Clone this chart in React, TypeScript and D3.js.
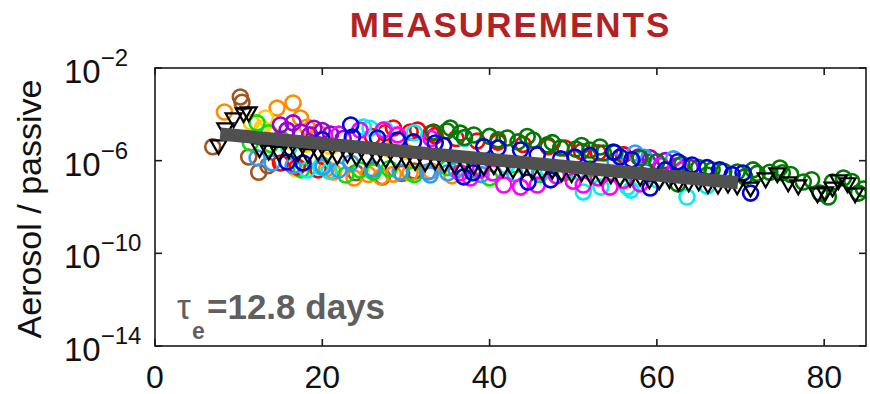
import React from "react";
import * as d3 from "d3";

type Pt = [number, number]; // [day, aerosol/passive ratio]

// Axis settings
const xDomain: [number, number] = [0, 85];
const yDomain: [number, number] = [1e-14, 1e-2];
const xTicks = [0, 20, 40, 60, 80];
const yTickExponents = [-2, -6, -10, -14];

// Fitted e-folding time and fit span
const tauDays = 12.8;
const fitStartDay = 7.8;
const fitEndDay = 69.7;
const fitStartValue = 1.41e-5;

// Individual flights / profiles (open circles)
const brownPts: Pt[] = [
  [6.9, 3.98e-6], [10.2, 5.62e-4], [10.4, 3.3e-4], [11.2, 1.45e-6], [12.4, 3.16e-7],
  [13.5, 6.0e-7], [24.0, 3.0e-7], [26.0, 4.0e-7], [27.2, 2.0e-7], [29.5, 2.82e-7],
  [31.0, 3.55e-7],
];
const orangePts: Pt[] = [
  [8.3, 1.26e-4], [14.6, 1.86e-4], [16.5, 3.09e-4], [17.4, 6.92e-5], [18.2, 2.82e-5],
  [19.5, 1.6e-5], [20.5, 4.5e-7], [21.3, 3.24e-7], [23.8, 1.78e-7], [25.5, 2.51e-7],
  [27.0, 2.0e-7], [28.5, 2.6e-7], [30.5, 2.95e-7], [33.0, 3.55e-7], [35.5, 2.2e-7],
];
const yellowPts: Pt[] = [
  [11.5, 4.47e-5], [13.2, 6.9e-5], [12.8, 2.51e-5], [14.0, 1.26e-5], [15.5, 7.0e-6],
  [16.8, 4.5e-7], [18.0, 5.0e-6], [21.0, 4.0e-6], [28.0, 3.0e-6], [30.0, 2.5e-6],
];
const limePts: Pt[] = [
  [11.4, 5.75e-6], [12.2, 4.27e-5], [13.6, 1.6e-5], [13.8, 5.0e-6], [15.0, 9.0e-6],
  [17.5, 4.0e-7], [20.0, 6.5e-7], [22.8, 2.4e-7], [24.5, 3.98e-7], [26.1, 3.24e-7],
  [28.0, 4.5e-7], [31.0, 2.5e-7], [35.0, 5.0e-7], [38.0, 4.0e-7], [40.0, 1.8e-7],
  [43.0, 6.5e-7], [46.0, 2.51e-7], [49.0, 3.0e-7], [52.0, 4.5e-7],
];
const purplePts: Pt[] = [
  [15.0, 3.47e-5], [15.8, 2.09e-5], [16.5, 4.27e-5], [17.4, 1.74e-5], [18.5, 1.3e-5],
  [19.0, 2.51e-5], [20.0, 2.0e-5], [21.0, 1.41e-5], [22.5, 9.0e-6], [56.0, 1.8e-6],
  [57.8, 1.45e-6], [58.9, 8.7e-7], [59.2, 1.32e-6], [61.0, 1.0e-6], [62.5, 6.0e-7],
  [64.0, 5.0e-7],
];
const redPts: Pt[] = [
  [15.0, 7.94e-7], [17.0, 5.37e-7], [19.5, 4.0e-7], [26.0, 1.1e-5], [27.5, 1.6e-5],
  [28.5, 2.57e-5], [30.5, 1.74e-5], [31.4, 2.09e-5], [33.0, 1.5e-5], [33.5, 1.2e-5],
  [36.0, 9.0e-6], [38.5, 7.0e-6], [41.0, 6.3e-6], [44.0, 5.0e-6], [47.0, 3.98e-6],
  [49.0, 3.5e-6], [51.0, 2.5e-6], [53.0, 2.2e-6], [56.0, 1.8e-6],
];
const cyanPts: Pt[] = [
  [16.0, 3.5e-6], [18.2, 3.98e-7], [19.8, 5.37e-7], [20.8, 3.55e-7], [24.9, 2.82e-5],
  [25.7, 2.51e-5], [27.5, 2.2e-5], [31.0, 1.6e-5], [37.0, 9.0e-6], [42.0, 6.0e-7],
  [47.0, 4.0e-7], [50.5, 3.5e-7], [51.2, 4.47e-8], [53.3, 7.24e-8], [56.5, 7.24e-8],
  [56.9, 5.37e-8], [60.0, 1.5e-7], [63.6, 2.69e-8], [66.0, 8.0e-8],
];
const skyPts: Pt[] = [
  [12.2, 1.32e-6], [14.0, 8.0e-7], [16.5, 6.0e-7], [20.1, 5.37e-7], [22.0, 4.0e-7],
  [23.4, 7.94e-7], [26.0, 4.5e-7], [29.3, 3.24e-7], [32.6, 3.24e-7], [32.9, 2.4e-7],
  [35.0, 3.0e-7], [36.0, 3.98e-7], [39.0, 2.5e-7], [43.0, 2.8e-7], [46.0, 3.3e-7],
  [55.0, 9.0e-7], [57.4, 2.14e-6], [58.5, 1.4e-6], [62.0, 1.2e-6],
];
const magentaPts: Pt[] = [
  [22.0, 1.4e-5], [24.5, 2.09e-5], [27.3, 2.09e-5], [29.0, 1.3e-5], [33.0, 9.0e-6],
  [36.5, 3.0e-7], [37.7, 1.78e-7], [38.9, 3.98e-7], [40.4, 2.95e-7], [41.7, 8.9e-8],
  [43.7, 7.24e-8], [45.7, 8.9e-8], [48.0, 2.2e-7], [50.0, 1.3e-7], [51.2, 8.9e-8],
  [53.0, 1.8e-7], [54.4, 7.24e-8], [56.0, 1.4e-7], [58.0, 1.0e-7], [60.5, 6.0e-7],
  [63.0, 4.0e-7],
];
const darkGreenPts: Pt[] = [
  [33.3, 1.74e-5], [34.9, 1.91e-5], [35.3, 2.57e-5], [36.5, 1.55e-5], [37.0, 1.0e-5],
  [38.1, 1.29e-5], [40.0, 1.12e-5], [41.0, 8.0e-6], [42.1, 9.55e-6], [43.4, 6.46e-6],
  [44.5, 1.1e-5], [45.2, 7.76e-6], [46.9, 4.79e-6], [47.5, 6.0e-6], [48.5, 3.55e-6],
  [50.3, 3.16e-6], [51.0, 4.5e-6], [52.0, 2.88e-6], [53.2, 3.89e-6], [53.6, 2.14e-6],
  [55.0, 2.2e-6], [58.0, 1.3e-6], [60.0, 9.0e-7], [62.5, 1.0e-7], [63.0, 7.0e-7],
  [65.0, 5.0e-7], [66.0, 2.4e-7], [66.6, 3.98e-7], [68.0, 3.5e-7], [69.6, 3.24e-7],
  [70.5, 2.0e-7], [71.5, 4.0e-7], [72.0, 2.82e-7], [73.5, 3.16e-7], [74.7, 4.79e-7],
  [75.0, 3.0e-7], [76.0, 2.51e-7], [77.5, 1.2e-7], [78.5, 1.5e-7], [79.5, 3.98e-8],
  [80.5, 2.69e-8], [81.0, 1.2e-7], [82.3, 1.78e-7], [83.3, 1.26e-7], [84.1, 3.98e-8],
  [84.7, 6.0e-8],
];
const bluePts: Pt[] = [
  [15.8, 8.7e-7], [17.7, 7.94e-7], [20.0, 8.0e-6], [23.4, 3.47e-5], [23.6, 1.05e-5],
  [26.6, 9.55e-6], [29.0, 7.76e-6], [30.9, 6.46e-6], [33.5, 5.75e-6], [34.5, 4.5e-6],
  [36.9, 2.0e-7], [38.0, 3.0e-7], [39.3, 3.98e-6], [41.0, 3.5e-6], [43.7, 2.88e-6],
  [44.6, 1.2e-7], [45.7, 1.78e-6], [47.3, 1.48e-7], [48.5, 1.2e-6], [50.2, 1.45e-6],
  [52.0, 1.7e-6], [54.8, 2.34e-6], [55.6, 1.45e-6], [57.0, 1.1e-6], [59.2, 6.6e-8],
  [61.0, 4.0e-7], [62.5, 9.0e-7], [64.2, 6.46e-7], [66.0, 5.0e-7], [67.5, 4.0e-7],
  [69.0, 2.5e-7], [70.3, 2.95e-7], [71.2, 3.98e-8],
];

// Daily median (down-pointing triangles)
const medianPts: Pt[] = [
  [7.6, 4.79e-6], [8.4, 2.57e-5], [9.4, 6.92e-5], [10.6, 1.15e-4], [11.2, 1.26e-4],
  [12.5, 3.55e-6], [13.6, 2.82e-6], [14.8, 2.51e-6], [16.0, 3.16e-6], [17.1, 2.4e-6],
  [18.3, 2.0e-6], [19.5, 2.51e-6], [20.6, 1.91e-6], [21.8, 1.78e-6], [23.0, 2.09e-6],
  [24.1, 1.51e-6], [25.3, 1.41e-6], [26.5, 1.66e-6], [27.6, 1.26e-6], [28.8, 1.12e-6],
  [30.0, 1.32e-6], [31.1, 1.0e-6], [32.3, 8.9e-7], [33.5, 1.05e-6], [34.6, 7.9e-7],
  [35.8, 7.1e-7], [37.0, 8.3e-7], [38.1, 6.3e-7], [39.3, 6.0e-7], [40.5, 6.6e-7],
  [41.6, 5.0e-7], [42.8, 4.5e-7], [44.0, 5.2e-7], [45.1, 4.0e-7], [46.3, 3.8e-7],
  [47.5, 4.2e-7], [48.6, 3.2e-7], [49.8, 3.0e-7], [51.0, 3.3e-7], [52.1, 2.5e-7],
  [53.3, 2.4e-7], [54.5, 2.6e-7], [55.6, 2.0e-7], [56.8, 1.9e-7], [58.0, 2.1e-7],
  [59.1, 1.6e-7], [60.3, 1.5e-7], [61.5, 1.66e-7], [62.6, 1.26e-7], [63.8, 1.2e-7],
  [65.0, 1.32e-7], [66.1, 1.0e-7], [67.3, 9.5e-8], [68.5, 1.05e-7], [69.6, 8.9e-8],
  [71.2, 7.2e-8], [73.0, 1.78e-7], [74.4, 2.95e-7], [75.7, 1.2e-7], [76.9, 8.9e-8],
  [79.2, 4.0e-8], [80.1, 4.5e-8], [81.0, 7.2e-8], [81.7, 1.48e-7], [82.8, 1.1e-7],
  [83.7, 4.0e-8],
];

const circleSeries: { color: string; pts: Pt[] }[] = [
  { color: "#a0561e", pts: brownPts },
  { color: "#ff8c00", pts: orangePts },
  { color: "#ffd000", pts: yellowPts },
  { color: "#00e600", pts: limePts },
  { color: "#9b00d9", pts: purplePts },
  { color: "#ff0000", pts: redPts },
  { color: "#00f0f0", pts: cyanPts },
  { color: "#3399ff", pts: skyPts },
  { color: "#ff00ff", pts: magentaPts },
  { color: "#007a00", pts: darkGreenPts },
  { color: "#0000e0", pts: bluePts },
];

const FONT = "'Liberation Sans', Arial, Helvetica, sans-serif";

export default function App() {
  const W = 870;
  const H = 394;
  const left = 155;
  const right = 866;
  const top = 68;
  const bottom = 346;

  const x = d3.scaleLinear().domain(xDomain).range([left, right]);
  const y = d3.scaleLog().domain(yDomain).range([bottom, top]);

  const fitDays = [fitStartDay, fitEndDay];
  const fitLine = d3
    .line<number>()
    .x((t) => x(t))
    .y((t) => y(fitStartValue * Math.exp(-(t - fitStartDay) / tauDays)));

  const tri = d3.symbol(d3.symbolTriangle, 110)() as string;
  const tickLen = 7;

  return (
    <svg
      width={W}
      height={H}
      style={{ position: "absolute", left: 0, top: 0, background: "#fff" }}
      fontFamily={FONT}
    >
      <rect x={0} y={0} width={W} height={H} fill="#fff" />
      <text
        x={(left + right) / 2}
        y={37}
        textAnchor="middle"
        fontSize={35}
        fontWeight="bold"
        letterSpacing={2}
        fill="#b22222"
      >
        MEASUREMENTS
      </text>

      <defs>
        <clipPath id="plotArea">
          <rect x={left} y={top} width={right - left} height={bottom - top} />
        </clipPath>
      </defs>

      <g clipPath="url(#plotArea)">
        {circleSeries.map((s, i) => (
          <g key={i} fill="none" stroke={s.color} strokeWidth={2.6}>
            {s.pts.map((p, j) => (
              <circle key={j} cx={x(p[0])} cy={y(p[1])} r={7.5} />
            ))}
          </g>
        ))}
        <g fill="none" stroke="#000" strokeWidth={2.2}>
          {medianPts.map((p, j) => (
            <path key={j} d={tri} transform={`translate(${x(p[0])},${y(p[1])}) rotate(180)`} />
          ))}
        </g>
        <path d={fitLine(fitDays) as string} stroke="#505050" strokeWidth={13} fill="none" />
      </g>

      {/* axes box and ticks */}
      <rect x={left} y={top} width={right - left} height={bottom - top} fill="none" stroke="#1a1a1a" strokeWidth={1.6} />
      {xTicks.map((t) => (
        <g key={t} stroke="#1a1a1a" strokeWidth={1.6}>
          <line x1={x(t)} x2={x(t)} y1={bottom} y2={bottom - tickLen} />
          <line x1={x(t)} x2={x(t)} y1={top} y2={top + tickLen} />
        </g>
      ))}
      {yTickExponents.map((e) => (
        <g key={e} stroke="#1a1a1a" strokeWidth={1.6}>
          <line x1={left} x2={left + tickLen} y1={y(10 ** e)} y2={y(10 ** e)} />
          <line x1={right} x2={right - tickLen} y1={y(10 ** e)} y2={y(10 ** e)} />
        </g>
      ))}

      {xTicks.map((t) => (
        <text key={t} x={x(t)} y={388} textAnchor="middle" fontSize={32} fill="#111">
          {t}
        </text>
      ))}
      {yTickExponents.map((e) => (
        <text key={e} x={64} y={y(10 ** e) + 15} fontSize={33} fill="#111">
          <tspan>10</tspan>
          <tspan dy={-17} fontSize={24}>{`\u2212${Math.abs(e)}`}</tspan>
        </text>
      ))}

      <text
        transform={`translate(41,${(top + bottom) / 2 + 2}) rotate(-90)`}
        textAnchor="middle"
        fontSize={34}
        fill="#111"
      >
        Aerosol / passive
      </text>

      <g fill="#5f5f5f">
        <text x={177} y={319} fontSize={35}>τ</text>
        <text x={192} y={339} fontSize={23} fontWeight="bold">e</text>
        <text x={207} y={319} fontSize={35} fontWeight="bold">=12.8 days</text>
      </g>
    </svg>
  );
}
